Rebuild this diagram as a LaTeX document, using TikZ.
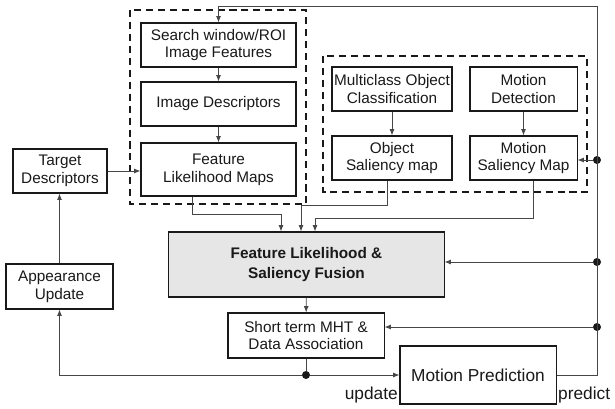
\documentclass[tikz,border=0pt]{standalone}
\usepackage{fontspec}
\setmainfont{Liberation Sans}
\usetikzlibrary{arrows.meta, calc}
\definecolor{fusiongray}{RGB}{230,230,230}
\definecolor{linecolor}{RGB}{25,25,25}
\definecolor{wirecolor}{RGB}{70,70,70}

\begin{document}
\begin{tikzpicture}[x=0.025cm, y=-0.025cm, color=linecolor,
    blk/.style={draw, line width=0.75pt, align=center, inner sep=0pt, font=\fontsize{10.9}{12.6}\selectfont},
    arr/.style={-{Latex[length=4.5pt, width=3.5pt]}, line width=0.6pt, wirecolor},
    ln/.style={line width=0.6pt, wirecolor},
    grp/.style={draw, line width=1.6pt, dash pattern=on 5pt off 3.5pt},
    dot/.style={circle, fill=linecolor, inner sep=0pt, minimum size=0.2cm},
    lbl/.style={font=\fontsize{12.3}{14}\selectfont, inner sep=1pt}]
    \useasboundingbox (0,0) rectangle (615,408);

    % === IMAGE FEATURE CHAIN ===
    \draw[grp] (130,10) rectangle (306,204);
    \node[blk, minimum width=3.875cm, minimum height=1.1cm] (search) at (218.5,45) {Search window/ROI\\Image Features};
    \node[blk, minimum width=3.875cm, minimum height=1.1cm] (imgdesc) at (218.5,104) {Image Descriptors};
    \node[blk, minimum width=3.875cm, minimum height=1.325cm] (featmaps) at (218.5,169.5) {Feature\\Likelihood Maps};

    % Target model
    \node[blk, minimum width=2.35cm, minimum height=1.1cm] (target) at (60,171) {Target\\Descriptors};
    \node[blk, minimum width=2.675cm, minimum height=1.125cm] (appear) at (59.5,286.5) {Appearance\\Update};

    % === SALIENCY CHAIN ===
    \draw[grp] (323,56) rectangle (587,192);
    \node[blk, minimum width=3cm, minimum height=1.1cm] (multi) at (392,89) {Multiclass Object\\Classification};
    \node[blk, minimum width=2.675cm, minimum height=1.1cm] (motdet) at (523.5,89) {Motion\\Detection};
    \node[blk, minimum width=3cm, minimum height=1.1cm] (objsal) at (392,158) {Object\\Saliency map};
    \node[blk, minimum width=2.675cm, minimum height=1.1cm] (motsal) at (523.5,158) {Motion\\Saliency Map};

    % === FUSION & TRACKING ===
    \node[blk, fill=fusiongray, minimum width=6.875cm, minimum height=1.625cm, font=\fontsize{10.9}{13.6}\selectfont\bfseries] (fusion) at (306.5,264.5) {Feature Likelihood \&\\Saliency Fusion};
    \node[blk, minimum width=3.9cm, minimum height=1.125cm] (mht) at (306,335.5) {Short term MHT \&\\Data Association};
    \node[blk, minimum width=3.9cm, minimum height=1.45cm, font=\fontsize{12.3}{14}\selectfont] (pred) at (478,375) {Motion Prediction};

    \node[lbl, anchor=south east] (lupd) at (pred.south west) {update};
    \node[lbl, anchor=south west] (lpred) at (pred.south east) {predict};

    % Branch points
    \coordinate (ctop) at (597,6);
    \node[dot] (dsal) at (597,160) {};
    \node[dot] (dfus) at (597,262) {};
    \node[dot] (dmht) at (597,327) {};
    \node[dot] (dupd) at (mht.south |- pred.west) {};

    % === CONNECTORS ===
    \draw[arr] (search) -- (imgdesc);
    \draw[arr] (imgdesc) -- (featmaps);
    \draw[arr] (target) -- (target -| featmaps.west);
    \draw[arr] (multi) -- (objsal);
    \draw[arr] (motdet) -- (motsal);

    \draw[arr] ($(featmaps.south)+(-26.5,0)$) -- ++(0,18) -| ($(fusion.north)+(-25.5,0)$);
    \draw[arr] ($(objsal.south)+(-5,0)$) -- ++(0,25) -| ($(fusion.north)+(-5.5,0)$);
    \draw[arr] ($(motsal.south)+(9.5,0)$) -- ++(0,38) -| ($(fusion.north)+(8.5,0)$);

    \draw[arr] (fusion) -- (mht);
    \draw[ln] (mht) -- (dupd);
    \draw[arr] (dupd) -- (pred.west);
    \draw[arr] (dupd) -| (appear.south);
    \draw[arr] (appear) -- (appear.north |- target.south);

    % Prediction feedback
    \draw[arr] (pred.east) -| (ctop) -| (search.north);
    \draw[arr] (dsal) -- (dsal -| motsal.east);
    \draw[arr] (dfus) -- (dfus -| fusion.east);
    \draw[arr] (dmht) -- (dmht -| mht.east);

\end{tikzpicture}
\end{document}
